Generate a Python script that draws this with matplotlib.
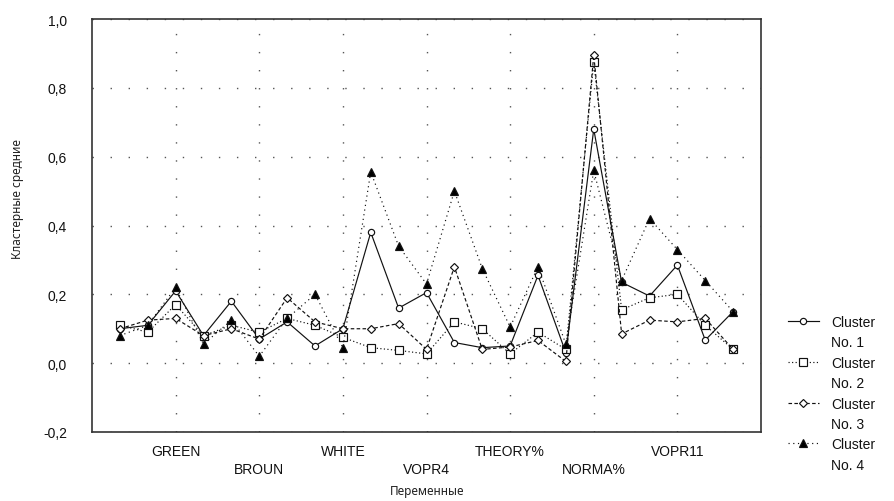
import numpy as np
import matplotlib
matplotlib.use('Agg')
import matplotlib.pyplot as plt
from matplotlib.lines import Line2D

# Data
variables = np.arange(1, 24)
tick_pos = [3, 6, 9, 12, 15, 18, 21]
tick_names = ['GREEN', 'BROUN', 'WHITE', 'VOPR4', 'THEORY%', 'NORMA%', 'VOPR11']

cluster1 = [0.10, 0.11, 0.21, 0.08, 0.18, 0.07, 0.12, 0.05, 0.10, 0.38, 0.16, 0.205,
            0.06, 0.045, 0.05, 0.255, 0.03, 0.68, 0.235, 0.195, 0.285, 0.067, 0.15]
cluster2 = [0.11, 0.09, 0.17, 0.08, 0.11, 0.09, 0.13, 0.11, 0.075, 0.045, 0.037, 0.027,
            0.12, 0.10, 0.027, 0.09, 0.04, 0.875, 0.155, 0.19, 0.20, 0.11, 0.04]
cluster3 = [0.10, 0.125, 0.13, 0.08, 0.10, 0.07, 0.19, 0.12, 0.10, 0.10, 0.115, 0.04,
            0.28, 0.04, 0.047, 0.066, 0.005, 0.895, 0.085, 0.125, 0.12, 0.13, 0.04]
cluster4 = [0.08, 0.11, 0.22, 0.055, 0.125, 0.02, 0.13, 0.20, 0.045, 0.556, 0.34, 0.23,
            0.50, 0.275, 0.105, 0.28, 0.055, 0.56, 0.24, 0.42, 0.33, 0.24, 0.15]

y_ticks = [-0.2, 0.0, 0.2, 0.4, 0.6, 0.8, 1.0]
y_ticklabels = ['-0,2', '0,0', '0,2', '0,4', '0,6', '0,8', '1,0']

# Figure
fig = plt.figure(figsize=(8.94, 5.02), dpi=100)
ax = fig.add_axes([92/894, 1-433/502, 669/894, 413/502])

styles = [
    dict(linestyle='-', marker='o', mfc='white', ms=4.5),
    dict(linestyle=(0, (1, 2)), marker='s', mfc='white', ms=5.5),
    dict(linestyle=(0, (3, 2)), marker='D', mfc='white', ms=4.5),
    dict(linestyle=(0, (1, 3)), marker='^', mfc='black', ms=5.5),
]
series = [cluster1, cluster2, cluster3, cluster4]
for vals, st in zip(series, styles):
    ax.plot(variables, vals, color='#111111', lw=0.85, mec='#111111', mew=0.85, **st)

ax.set_xlim(0, 24)
ax.set_ylim(-0.2, 1.0)
ax.set_yticks(y_ticks)
ax.set_yticklabels(y_ticklabels, fontsize=10, family='Liberation Sans')
ax.set_xticks(tick_pos)
ax.set_xticklabels([n if i % 2 == 0 else '\n' + n for i, n in enumerate(tick_names)],
                   fontsize=10, family='Liberation Sans', linespacing=1.3)
ax.tick_params(axis='both', length=0, labelcolor='#111111')
ax.tick_params(axis='y', pad=18)
ax.tick_params(axis='x', pad=9)
ax.grid(True, color='#555555', linestyle=(0, (1, 12)), lw=1.0)
for s in ax.spines.values():
    s.set_linewidth(1.2)
    s.set_color('#333333')

fig.text(18/894, 1-199/502, 'Кластерные средние', rotation=90, ha='center', va='center',
         fontsize=8.5, family='Noto Sans', color='#222222')
fig.text(427/894, 1-492/502, 'Переменные', ha='center', va='center',
         fontsize=8.5, family='Noto Sans', color='#222222')

# Legend: "Cluster" line carries the handle, "No. N" line has a blank one
handles, labels = [], []
for k, st in enumerate(styles):
    handles.append(Line2D([], [], color='#111111', lw=0.85, mec='#111111', mew=0.85, **st))
    labels.append('Cluster')
    handles.append(Line2D([], [], linestyle='none'))
    labels.append('No. %d' % (k + 1))
fig.legend(handles, labels, loc='upper left', bbox_to_anchor=(788/894, 1-316/502),
           frameon=False, borderpad=0, borderaxespad=0,
           prop={'family': 'Liberation Sans', 'size': 10},
           handlelength=2.2, handletextpad=0.9, labelspacing=0.46, numpoints=1,
           labelcolor='#111111')

fig.savefig('out.png', dpi=100)
